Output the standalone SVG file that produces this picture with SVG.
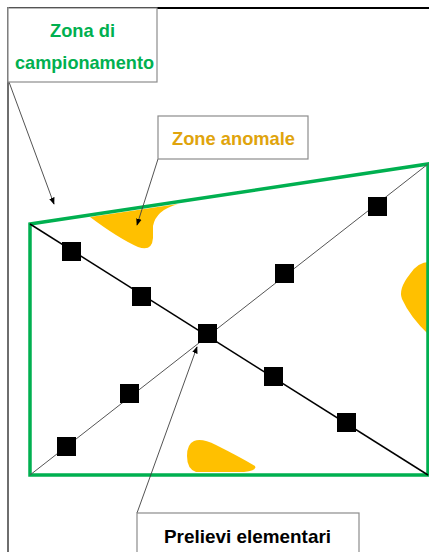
<svg xmlns="http://www.w3.org/2000/svg" width="429" height="552" viewBox="0 0 429 552">
<defs>
<style>
.box{fill:#fff;stroke:#8c8c8c;stroke-width:1.2}
.lbl{font-family:"Liberation Sans",Arial,sans-serif;font-weight:bold;font-size:18.5px;text-anchor:middle}
.sq{fill:#000}
.blob{fill:#FFC000}
.ptr{stroke:#404040;stroke-width:0.9;fill:none;marker-end:url(#ah)}
</style>
<marker id="ah" viewBox="0 0 10 10" refX="9" refY="5" markerWidth="7" markerHeight="7" markerUnits="userSpaceOnUse" orient="auto">
<path d="M0,1 L10,5 L0,9 Z" fill="#000"/>
</marker>
</defs>
<rect width="429" height="552" fill="#fff"/>
<g id="page-frame">
<line x1="7" y1="8" x2="429" y2="8" stroke="#000" stroke-width="2"/>
<line x1="8" y1="7" x2="8" y2="552" stroke="#6e6e6e" stroke-width="2"/>
</g>
<g id="anomalies">
<path class="blob" d="M90,217 Q118,238 138,247 Q152,252 153,238 L153,226 Q156,210 178,204 Z"/>
<path class="blob" d="M429,262 Q418,262 410,274 Q398,289 402,299 Q410,317 429,335 Z"/>
<path class="blob" d="M194,441 Q202,438 216,445 Q240,457 255,466 Q257,471 244,472 L196,472 Q187,469 187,456 Q187,444 194,441 Z"/>
</g>
<g id="sampling-zone">
<polygon points="30,224 428,164 428,475 30,475" fill="none" stroke="#00B050" stroke-width="3.5" stroke-linejoin="miter"/>
</g>
<g id="diagonals">
<line x1="30" y1="224" x2="428" y2="475" stroke="#000" stroke-width="1.5"/>
<line x1="30" y1="475" x2="428" y2="164" stroke="#555" stroke-width="1"/>
</g>
<g id="samples">
<rect class="sq" x="62" y="242" width="19" height="19"/>
<rect class="sq" x="132" y="287" width="19" height="19"/>
<rect class="sq" x="198" y="324" width="19" height="19"/>
<rect class="sq" x="264" y="367" width="19" height="19"/>
<rect class="sq" x="337" y="413" width="19" height="19"/>
<rect class="sq" x="57" y="437" width="19" height="19"/>
<rect class="sq" x="120" y="384" width="19" height="19"/>
<rect class="sq" x="275" y="264" width="19" height="19"/>
<rect class="sq" x="368" y="197" width="19" height="19"/>
</g>
<g id="connectors">
<line class="ptr" x1="9" y1="82" x2="54" y2="204"/>
<line class="ptr" x1="158" y1="159" x2="137" y2="225"/>
<line class="ptr" x1="137" y1="513" x2="197" y2="347"/>
</g>
<g id="label-zona">
<rect class="box" x="8" y="8" width="149" height="74"/>
<text class="lbl" x="82.5" y="37" fill="#00B050" textLength="65" lengthAdjust="spacingAndGlyphs">Zona di</text>
<text class="lbl" x="84.5" y="69" fill="#00B050" textLength="139" lengthAdjust="spacingAndGlyphs">campionamento</text>
</g>
<g id="label-anomale">
<rect class="box" x="158" y="116" width="150" height="43"/>
<text class="lbl" x="233.5" y="145" fill="#E0A40C" textLength="123" lengthAdjust="spacingAndGlyphs">Zone anomale</text>
</g>
<g id="label-prelievi">
<rect class="box" x="137" y="513" width="222" height="45"/>
<text class="lbl" x="247.5" y="543" fill="#000" textLength="167" lengthAdjust="spacingAndGlyphs">Prelievi elementari</text>
</g>
</svg>
